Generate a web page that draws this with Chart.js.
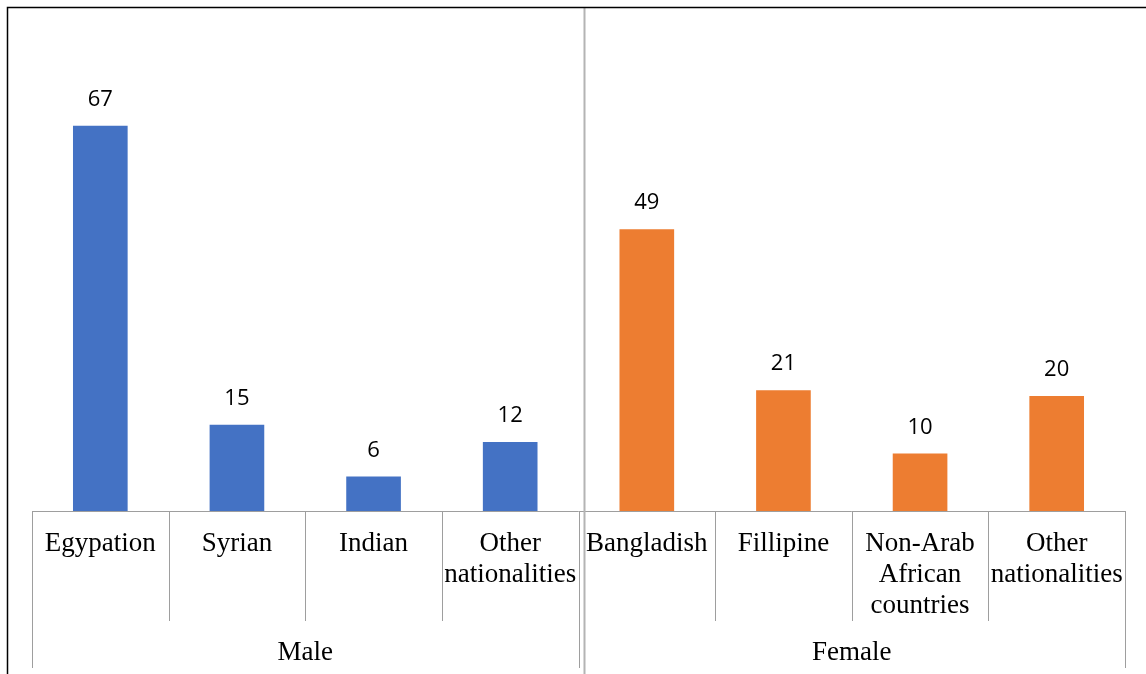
<!DOCTYPE html>
<html>
<head>
<meta charset="utf-8">
<script src="https://cdn.jsdelivr.net/npm/chart.js@4/dist/chart.umd.min.js"></script>
<style>
  html, body { margin: 0; padding: 0; background: #fff; }
  canvas { display: block; }
</style>
</head>
<body>
<canvas id="chart" width="1146" height="674"></canvas>
<script>
// Nationalities, grouped by sex
const categories = [
  ['Egypation'], ['Syrian'], ['Indian'], ['Other', 'nationalities'],
  ['Bangladish'], ['Fillipine'], ['Non-Arab', 'African', 'countries'], ['Other', 'nationalities']
];
const groups = ['Male', 'Female'];
const groupSizes = [4, 4];
const values = [67, 15, 6, 12, 49, 21, 10, 20];
const barColors = ['#4472C4', '#4472C4', '#4472C4', '#4472C4', '#ED7D31', '#ED7D31', '#ED7D31', '#ED7D31'];

const LINE = '#9e9e9e';

const decorations = {
  id: 'decorations',
  afterDatasetsDraw(chart) {
    const ctx = chart.ctx;
    const x = chart.scales.x;
    const area = chart.chartArea;
    const n = categories.length;
    const step = (x.getPixelForValue(1) - x.getPixelForValue(0));
    const edge = i => x.getPixelForValue(i) - step / 2;

    ctx.save();
    // value labels above bars
    const meta = chart.getDatasetMeta(0);
    ctx.fillStyle = '#000';
    ctx.font = '22px "Open Sans", sans-serif';
    ctx.textAlign = 'center';
    ctx.textBaseline = 'alphabetic';
    meta.data.forEach((bar, i) => {
      ctx.fillText(String(values[i]), bar.x, bar.y - 20);
    });

    // category axis line
    ctx.strokeStyle = LINE;
    ctx.lineWidth = 1;
    ctx.beginPath();
    ctx.moveTo(edge(0), area.bottom + 0.5);
    ctx.lineTo(edge(n), area.bottom + 0.5);
    ctx.stroke();

    // separators: inner between categories, outer between groups
    const outer = new Set([0]);
    let acc = 0;
    groupSizes.forEach(s => { acc += s; outer.add(acc); });
    for (let i = 0; i <= n; i++) {
      const px = Math.round(edge(i)) + 0.5;
      ctx.beginPath();
      ctx.moveTo(px, area.bottom);
      ctx.lineTo(px, outer.has(i) ? area.bottom + 157 : area.bottom + 110);
      ctx.stroke();
    }

    // category labels
    ctx.font = '27px "Liberation Serif", "Times New Roman", serif';
    ctx.textBaseline = 'middle';
    categories.forEach((lines, i) => {
      const cx = x.getPixelForValue(i);
      lines.forEach((t, j) => ctx.fillText(t, cx, area.bottom + 33 + j * 31));
    });

    // group labels
    let start = 0;
    groups.forEach((g, k) => {
      const end = start + groupSizes[k];
      const cx = (edge(start) + edge(end)) / 2;
      ctx.fillText(g, cx, area.bottom + 142);
      start = end;
    });

    // divider between the two panels
    ctx.strokeStyle = '#b4b4b4';
    ctx.lineWidth = 2;
    const dx = edge(groupSizes[0]) + 6;
    ctx.beginPath();
    ctx.moveTo(dx, 8);
    ctx.lineTo(dx, chart.height);
    ctx.stroke();

    // frame (top and left)
    ctx.strokeStyle = '#000';
    ctx.lineWidth = 1.5;
    ctx.beginPath();
    ctx.moveTo(7.5, chart.height);
    ctx.lineTo(7.5, 7.5);
    ctx.lineTo(chart.width, 7.5);
    ctx.stroke();
    ctx.restore();
  }
};

new Chart(document.getElementById('chart'), {
  type: 'bar',
  data: {
    labels: categories.map(c => c.join(' ')),
    datasets: [{
      data: values,
      backgroundColor: barColors,
      borderWidth: 0,
      barPercentage: 0.4,
      categoryPercentage: 1.0
    }]
  },
  options: {
    responsive: false,
    animation: false,
    layout: { padding: { left: 32, right: 21, top: 51, bottom: 163 } },
    plugins: { legend: { display: false }, tooltip: { enabled: false } },
    scales: {
      x: { display: false },
      y: { display: false, min: 0, max: 80 }
    }
  },
  plugins: [decorations]
});
</script>
</body>
</html>
